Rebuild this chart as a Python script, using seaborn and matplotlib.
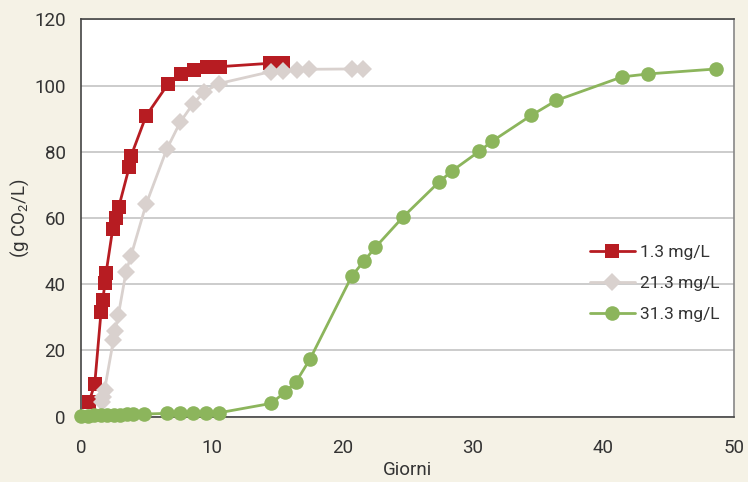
import pandas as pd
import matplotlib.pyplot as plt
import seaborn as sns

# Data
red_x = [0.6, 1.05, 1.53, 1.66, 1.84, 1.92, 2.43, 2.68, 2.89, 3.7, 3.83, 4.98,
         6.67, 7.66, 8.66, 9.63, 10.65, 14.44, 15.48]
red_y = [4.3, 9.8, 31.5, 35.1, 40.4, 43.4, 56.8, 60.0, 63.3, 75.5, 78.7, 90.8,
         100.5, 103.6, 104.8, 105.7, 105.7, 106.7, 106.7]

gray_x = [1.6, 1.7, 1.8, 2.48, 2.61, 2.86, 3.45, 3.83, 4.98, 6.57, 7.59, 8.56,
          9.45, 10.57, 14.54, 15.5, 16.53, 17.49, 20.74, 21.63]
gray_y = [4.5, 6.0, 8.0, 23.1, 25.9, 30.7, 43.8, 48.6, 64.1, 80.8, 88.9, 94.4,
          98.1, 100.6, 104.2, 104.5, 104.7, 104.9, 105.0, 105.0]

green_x = [0.0, 0.5, 1.0, 1.5, 2.0, 2.5, 3.0, 3.5, 4.0, 4.8, 6.6, 7.6, 8.6, 9.6,
           10.6, 14.54, 15.63, 16.48, 17.55, 20.74, 21.69, 22.53, 24.66, 27.42,
           28.44, 30.48, 31.49, 34.48, 36.4, 41.43, 43.42, 48.64]
green_y = [0.2, 0.3, 0.4, 0.4, 0.5, 0.5, 0.6, 0.7, 0.8, 0.8, 1.0, 1.0, 1.0, 1.0,
           1.2, 4.0, 7.4, 10.6, 17.5, 42.5, 47.1, 51.1, 60.3, 70.9,
           74.3, 80.1, 83.2, 91.0, 95.5, 102.6, 103.5, 105.0]

labels = ['1.3 mg/L', '21.3 mg/L', '31.3 mg/L']

sns.set_style('white')
plt.rcParams['font.family'] = ['Roboto', 'DejaVu Sans']
plt.rcParams['mathtext.fontset'] = 'custom'
plt.rcParams['mathtext.rm'] = 'Roboto'
plt.rcParams['mathtext.it'] = 'Roboto'

fig = plt.figure(figsize=(7.48, 4.82), dpi=100, facecolor='#f5f2e6')
ax = fig.add_axes([0.1083, 0.1355, 0.8730, 0.8245])
ax.set_facecolor('white')

series = [
    (red_x, red_y, '#b71c22', 's', 10, labels[0]),
    (gray_x, gray_y, '#d9d1ce', 'D', 9, labels[1]),
    (green_x, green_y, '#8cb55c', 'o', 10.5, labels[2]),
]
for xs, ys, col, mk, ms, lab in series:
    df = pd.DataFrame({'x': xs, 'y': ys})
    sns.lineplot(data=df, x='x', y='y', ax=ax, sort=False, color=col,
                 marker=mk, markersize=ms, markeredgewidth=0, linewidth=2,
                 label=lab, clip_on=False, zorder=3)

ax.set_xlim(0, 50)
ax.set_ylim(0, 120)
ax.set_xticks(range(0, 51, 10))
ax.set_yticks(range(0, 121, 20))
ax.yaxis.grid(True, color='#c4c4c4', linewidth=1.2)
ax.set_axisbelow(True)

for side in ['left', 'bottom', 'top']:
    ax.spines[side].set_color('#444444')
    ax.spines[side].set_linewidth(1.2)
ax.spines['right'].set_color('#888888')
ax.spines['right'].set_linewidth(1.2)

ax.tick_params(axis='both', direction='out', length=7, width=1, color='#444444',
               labelsize=13.5, labelcolor='#333333', pad=4)
ax.tick_params(axis='x', pad=9)
ax.set_xlabel('Giorni', fontsize=13.5, color='#333333', labelpad=3)
ax.set_ylabel('(g CO$_2$/L)', fontsize=13.5, color='#333333', labelpad=2)

leg = ax.legend(loc='center left', bbox_to_anchor=(0.755, 0.335), frameon=False,
                fontsize=12.5, handlelength=2.6, handletextpad=0.3, labelspacing=0.9,
                labelcolor='#333333')

fig.savefig('out.png', dpi=100, facecolor=fig.get_facecolor())
